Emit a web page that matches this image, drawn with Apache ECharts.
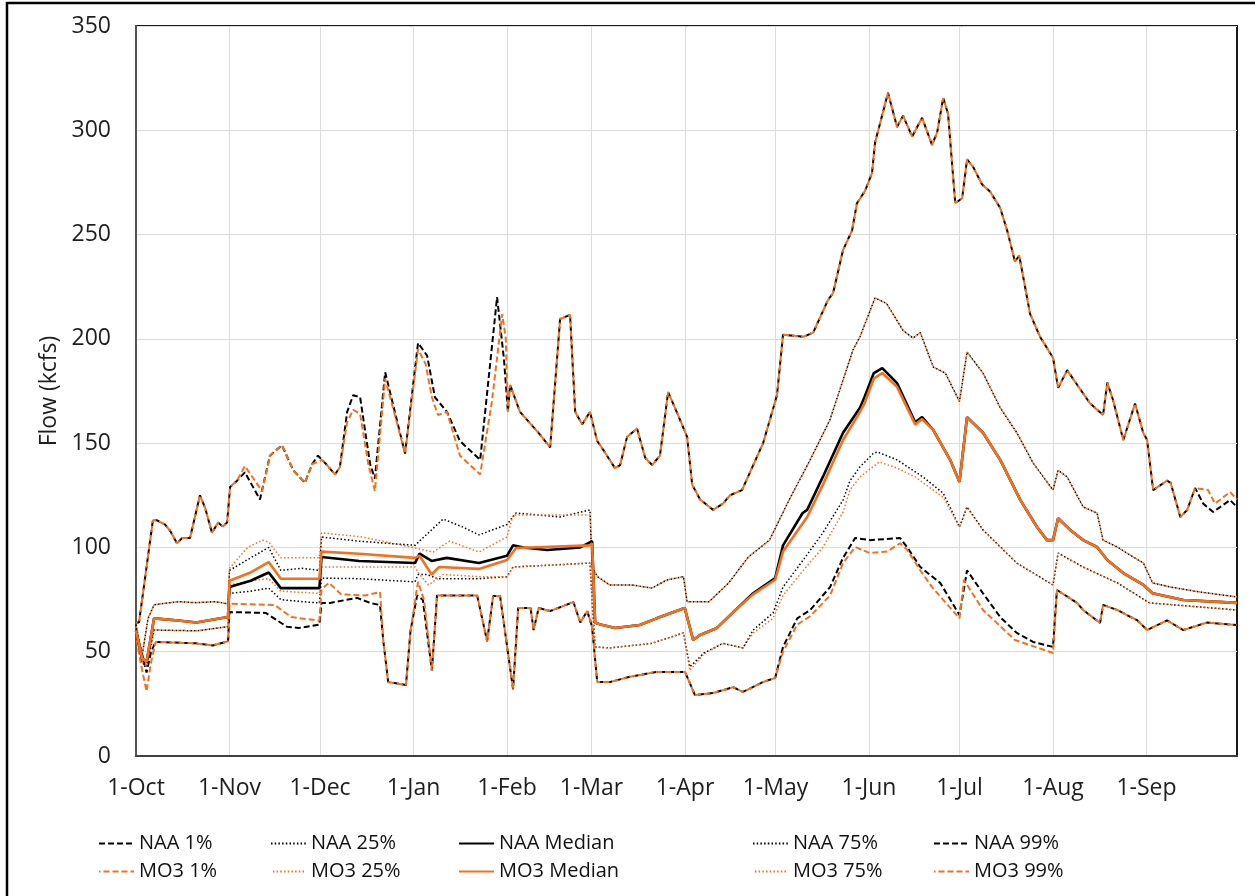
<!DOCTYPE html>
<html>
<head>
<meta charset="utf-8">
<script src="https://cdn.jsdelivr.net/npm/echarts@6/dist/echarts.min.js"></script>
<style>
html,body{margin:0;padding:0;background:#ffffff;}
#chart{width:1255px;height:896px;}
</style>
</head>
<body>
<div id="chart"></div>
<script>
// ---------- axis ticks ----------
const MONTH_DAYS = [0, 31, 61, 92, 123, 151, 182, 212, 243, 273, 304, 335];
const MONTH_LABELS = ['1-Oct', '1-Nov', '1-Dec', '1-Jan', '1-Feb', '1-Mar', '1-Apr', '1-May', '1-Jun', '1-Jul', '1-Aug', '1-Sep'];
const Y_MIN = 0, Y_MAX = 350, Y_STEP = 50;

// ---------- series values: [day of water year, flow kcfs] ----------
const P99_EARLY_NAA = [[0,64],[1,64],[5.6,113],[7,113],[9.6,111],[11.3,108],[13.6,102],[15.3,104.5],[17.9,104.5],[21.2,125],[22.9,119],[25.2,107],[27.2,112],[28.8,110],[30.2,112],[31.2,129],[33.5,132],[36.1,136],[41.1,123],[44.4,144],[48.4,149],[52.1,137],[56,131],[58.4,140],[60.3,144],[61.7,142],[63.3,139.5],[66,135],[67.6,138.6],[70,165],[72,173],[74.3,172],[77.6,140],[79.2,133],[82.6,184],[89.2,145],[93.5,198],[96.5,192],[99.1,172],[103.1,165],[107.4,151],[114.1,142],[119.7,220],[122,190],[123.3,165]];
const P99_EARLY_MO3 = [[0,64],[1,64],[5.6,113],[7,113],[9.6,111],[11.3,108],[13.6,102],[15.3,104.5],[17.9,104.5],[21.2,125],[22.9,119],[25.2,107],[27.2,112],[28.8,110],[30.2,112],[31.2,129],[33.5,132],[36.1,139],[41.8,127],[44.4,144],[48.4,149],[52.1,137],[56,131],[58.4,140],[60.3,141],[61.7,142],[63.3,139.5],[66,135],[67.6,138.6],[70,160],[72,166],[74.3,164],[77,140],[79.2,127],[82.6,181],[89.2,145],[93.5,195],[96,188],[98.1,172],[100.1,163.5],[103.1,165],[107.4,144],[114.1,135],[118,170],[121.4,212],[122.6,200],[123.3,165]];
const P99_SHARED = [[124,178],[127.3,165],[134,154],[137.3,148],[140.6,209.5],[143.9,211.5],[145.6,165],[147.9,159],[150.5,165],[152.9,151],[154.8,147],[158.8,138],[160.5,139.5],[162.8,153],[166.1,157],[168.8,143],[171.1,139.5],[173.7,144],[176.4,174.5],[179.4,164.5],[182.7,153],[184.4,130],[187,123],[191.3,118],[194.6,121],[196.9,125],[200.9,127.5],[207.9,150],[212.5,173],[214.5,202],[221.2,201],[224.5,203],[229.4,218.6],[231.1,222],[234.4,242.6],[237.4,252],[239,265],[241.7,271],[244,279.5],[245,294],[249.3,318],[252.3,301.6],[254.3,307],[257.3,297],[260.6,306],[263.9,293],[265.6,299],[267.6,315.5],[269.2,308],[271.6,265],[273.9,267.5],[275.5,286],[277.5,282.5],[280.5,274],[283.2,270.5],[286.5,262.7],[288.8,252],[291.4,237],[292.8,240],[296.4,212],[299.7,201],[304,191],[305.7,176.5],[308.7,185],[312,178],[316.3,169],[320.6,163.5],[322,179],[323.9,170.7],[327.3,151.5],[331.2,169],[333.9,155],[335.2,151.5],[337.2,127.5],[341.8,132],[343,131],[346.2,114.6],[348.5,118],[351.1,128.5]];
const P99_END_NAA = [[353.8,121],[357.1,117],[362.7,122.7],[365,119.4]];
const P99_END_MO3 = [[355.4,127.5],[357.7,121],[362.7,126.6],[365,123]];

const P75_EARLY_NAA = [[0,63],[2,48],[4,66],[6,72.5],[14,74],[20,73.5],[26,74],[30.5,73],[31,89],[38,95],[44,100],[48,89],[55,90],[60.8,89],[61.5,105],[74,103],[92.5,101],[101.8,113.6],[108,110],[113.7,106],[123,111],[126,116.5],[140.6,114.6],[150.5,118],[151.2,90.6],[153,86],[157,82]];
const P75_EARLY_MO3 = [[0,63],[2,48],[4,66],[6,72.5],[14,74],[20,73.5],[26,74],[30.5,73],[31,90],[37,100],[42,103.5],[44,102.6],[48,95],[55,95],[60.8,95],[61.5,107],[75,105],[92.5,99.7],[98.5,97.8],[104,103],[113.7,97.8],[123,105],[125,115.5],[150.5,115.5],[151.2,90],[153,86],[157,82]];
const P75_SHARED = [[164.5,82],[171,80.5],[176,84.4],[181.5,86],[182.7,74],[190,74],[196.5,83],[203,95.4],[210,103.5],[216.5,122.7],[223.5,142],[230,161],[237.7,194.7],[240,201],[245,219.6],[248.8,217],[254.3,204],[257.6,200.4],[260,203],[264.3,186.5],[268.3,183.6],[273,170],[275.5,193.7],[280.8,183.6],[286.5,167],[292,155],[297.4,140.5],[304,127.5],[305.7,137],[308.7,133.8],[314,119.4],[318.6,116.5],[320.6,103.5],[325.3,100.2],[330.6,95.4],[334,92.5],[337,83],[343,81],[352.8,78.6],[365,76.2]];

const MED_NAA = [[0,60],[2,47],[3.5,45],[6,66],[14,65],[20,64],[30.5,66.6],[31,81],[38,84],[44,88],[48,80.5],[60.8,80.5],[61.5,95.4],[74,93.5],[92.5,92.5],[94,97],[98,93.5],[103,95],[113.7,92.5],[123,96],[125,101],[128.4,100],[136.3,98.8],[147.3,100],[151.2,103],[152.2,64],[154,63],[158.8,61.4],[167,62.8],[172.6,66],[181.9,71],[184.7,55.6],[187,58],[192.6,61.4],[198,69],[204.6,78],[211.9,85.3],[214.5,101],[221,116.5],[222.5,118],[227.7,133.8],[234.4,155],[240,167],[241.5,172],[244.6,183.6],[247.4,186],[252.3,178.8],[258.3,160],[260.6,162.5]];
const MED_MO3 = [[0,60],[2,47],[3.5,45],[6,66],[14,65],[20,64],[30.5,66.6],[31,84],[38,88],[44,93],[48,85],[60.8,85],[61.5,98],[74,97],[92.5,95],[94,96],[98,87],[100.5,90.6],[113.7,89.7],[123,94],[126,99.7],[150.5,101],[151.2,102],[152.2,64],[154,63],[158.8,61.4],[167,62.8],[172.6,66],[181.9,71],[184.7,55.6],[187,58],[192.6,61.4],[198,69],[204.6,77.5],[211.9,84.5],[214.5,98],[222.5,114.6],[227.7,130],[234.4,151.5],[240,165],[241.5,169],[244.6,181],[247.4,183.6],[252.3,177],[258.3,159],[260.6,161.5]];
const MED_SHARED = [[264.3,156.3],[269.9,142],[273,131.4],[275.5,162.5],[280.8,155],[286.5,142],[293.2,122.7],[298.7,109.8],[302,103.5],[304,103.5],[305.7,114],[309.7,108.4],[314,103.5],[318.6,100.2],[322,94],[327.3,87.7],[334,82],[337,78],[347.2,74.8],[365,73.4]];

const P25_NAA = [[0,58],[2,45],[3.5,43],[6,60.4],[20,60],[30.5,62],[31,78],[38,79],[44,80.5],[48,75],[55,74],[60.8,73.4],[61.5,85.3],[74,85],[92.5,83.5],[93.5,87],[96.5,87],[100,85],[113.7,85],[123,86],[125,90.6],[150.5,92.5],[151.2,75],[152.2,52.3],[157,51.8],[171,54],[181.5,59],[183.6,42.7],[188.3,49.4],[194.6,54],[201.2,51.8],[204.6,60.4],[211.2,68.6],[214.5,81],[221.2,94],[227.7,107],[234.4,122.7],[236.7,132],[240,138.6],[244.4,145],[245.7,145.8],[252.3,142],[260.9,133.8],[267.6,126],[273,109.8]];
const P25_MO3 = [[0,58],[2,45],[3.5,43],[6,60.4],[20,60],[30.5,62],[31,82],[38,84],[44,85],[48,79],[60.8,78],[61.5,90.6],[74,90.6],[92.5,90.6],[94,87],[97,82],[101.8,87],[113.7,86],[123,86],[125,90.6],[150.5,92.5],[151.2,75],[152.2,52.3],[157,51.8],[171,54],[181.5,59],[183.6,41],[188.3,49],[194.6,54],[201.2,51.8],[204.6,59],[211.2,66],[214.5,77],[221.2,89],[227.7,100],[234.4,117],[236.7,127.5],[240,133.8],[246.4,141],[252.3,138],[258.3,133.8],[267.6,124],[273,109.8]];
const P25_SHARED = [[275.5,119.4],[280.8,108.4],[292,92.5],[304,82],[305.7,97.3],[314,90.6],[325.3,83],[336,73.4],[365,70]];

const P1_EARLY_NAA = [[0,58],[1.5,52],[3.5,40],[5,50],[6.5,54.7],[20,54],[25.5,53],[30.5,55],[31,69],[43,68.6],[50,62],[54,61.4],[60.8,63],[61.5,73.4],[64.3,73.4],[73.3,75.8],[77.6,73.4],[80.9,72.4],[82,55],[83.6,35.5],[89.5,34],[91,60],[93.2,77],[95.1,74.8]];
const P1_EARLY_MO3 = [[0,58],[1.5,45],[3.5,31],[5,45],[6.5,54.7],[20,54],[25.5,53],[30.5,55],[31,73],[46,72.4],[51.5,66.6],[60,65],[60.8,65],[61.5,80],[64,83],[68,77.5],[76,77],[80.9,78.6],[82,55],[83.6,35.5],[89.5,34],[91,60],[93.5,83.5],[95.5,74.8]];
const P1_MID = [[98.1,41],[99.8,77],[113.1,77],[116.4,55],[118.4,76.7],[120.7,76.7],[125,32],[126.7,71],[130.8,71],[131.8,60.4],[133.5,71],[137.3,69.5],[145,73.8],[147.3,64],[149.6,69.5],[151.2,62],[152.9,35.5],[157.2,35.5],[163.8,38],[172.6,40.3],[182,40.3],[185.3,29.2],[191.3,30.2],[198,33],[201.2,30.7],[207.9,35.5],[211.9,37.4]];
const P1_SUMMER_NAA = [[214.5,52.3],[219.2,66],[223.5,70],[230.1,81],[234.4,95],[238.4,104.5],[243.3,103.5],[253.3,104.5],[255.6,100.2],[260,90.6],[266.6,83],[273,67.6],[275.5,89],[280.8,78],[286.5,66.6],[292,59],[297.4,54.7],[304,52.3]];
const P1_SUMMER_MO3 = [[214.5,50],[219.2,63],[223.5,67],[230.1,77],[234.4,92.5],[238.4,100.2],[243.3,97.3],[249,98],[253.3,102],[255.6,99],[260,89],[263.9,81],[273,66],[274.5,84.4],[280.8,70],[291.4,55.6],[304,49.4]];
const P1_LATE = [[305.3,79.6],[312,73.4],[314,70],[319.6,63.8],[320.6,72.4],[325.3,70],[332,65],[335.2,60.4],[341.8,65],[347.2,60.4],[355.1,64],[365,62.8]];

const NAA_P1 = P1_EARLY_NAA.concat(P1_MID, P1_SUMMER_NAA, P1_LATE);
const MO3_P1 = P1_EARLY_MO3.concat(P1_MID, P1_SUMMER_MO3, P1_LATE);
const NAA_P25 = P25_NAA.concat(P25_SHARED);
const MO3_P25 = P25_MO3.concat(P25_SHARED);
const NAA_MEDIAN = MED_NAA.concat(MED_SHARED);
const MO3_MEDIAN = MED_MO3.concat(MED_SHARED);
const NAA_P75 = P75_EARLY_NAA.concat(P75_SHARED);
const MO3_P75 = P75_EARLY_MO3.concat(P75_SHARED);
const NAA_P99 = P99_EARLY_NAA.concat(P99_SHARED, P99_END_NAA);
const MO3_P99 = P99_EARLY_MO3.concat(P99_SHARED, P99_END_MO3);

const SERIES_NAMES = [['NAA 1%', 'MO3 1%'], ['NAA 25%', 'MO3 25%'], ['NAA Median', 'MO3 Median'], ['NAA 75%', 'MO3 75%'], ['NAA 99%', 'MO3 99%']];

// ---------- styling ----------
const FONT = '"Open Sans", "Liberation Sans", sans-serif';
const BLACK = '#000000';
const ORANGE = '#F4701E';
const STYLE = {
  outer:  { width: 2,   type: [6, 3] },
  quart:  { width: 1.5, type: [1.5, 2.2] },
  median: { width: 2.6, type: 'solid' }
};

function mk(name, data, color, kind, offset) {
  return {
    name: name,
    type: 'line',
    data: data,
    showSymbol: false,
    symbol: 'circle',
    silent: true,
    animation: false,
    lineStyle: { color: color, width: STYLE[kind].width, type: STYLE[kind].type, dashOffset: offset || 0 },
    itemStyle: { color: color },
    emphasis: { disabled: true }
  };
}

const series = [
  mk('NAA 1%', NAA_P1, BLACK, 'outer', 0),
  mk('NAA 25%', NAA_P25, BLACK, 'quart', 0),
  mk('NAA 75%', NAA_P75, BLACK, 'quart', 0),
  mk('NAA 99%', NAA_P99, BLACK, 'outer', 0),
  mk('MO3 1%', MO3_P1, ORANGE, 'outer', 4.5),
  mk('MO3 25%', MO3_P25, ORANGE, 'quart', 1.8),
  mk('MO3 75%', MO3_P75, ORANGE, 'quart', 1.8),
  mk('MO3 99%', MO3_P99, ORANGE, 'outer', 4.5),
  mk('NAA Median', NAA_MEDIAN, BLACK, 'median', 0),
  mk('MO3 Median', MO3_MEDIAN, ORANGE, 'median', 0)
];

const LEGEND_LEFT = [98, 270, 458, 752, 933];
const legends = SERIES_NAMES.map(function (pair, i) {
  return {
    orient: 'vertical',
    left: LEGEND_LEFT[i],
    top: 833,
    padding: 0,
    itemGap: 7,
    itemWidth: 35,
    itemHeight: 14,
    selectedMode: false,
    data: pair,
    itemStyle: { opacity: 0 },
    lineStyle: { width: 2 },
    textStyle: { fontFamily: FONT, fontSize: 20, color: '#111111', lineHeight: 21 }
  };
});

const chart = echarts.init(document.getElementById('chart'), null, { renderer: 'canvas' });
chart.setOption({
  backgroundColor: '#ffffff',
  animation: false,
  grid: { left: 136, top: 26, right: 18, bottom: 140, show: true, borderColor: '#1a1a1a', borderWidth: 2, backgroundColor: 'transparent' },
  xAxis: {
    type: 'value',
    min: 0,
    max: 365,
    axisLine: { show: true, onZero: false, lineStyle: { color: '#404040', width: 2 } },
    axisTick: { show: false, customValues: MONTH_DAYS },
    splitLine: { show: true, lineStyle: { color: '#dcdcdc', width: 1 } },
    axisLabel: {
      customValues: MONTH_DAYS,
      formatter: function (v) { const i = MONTH_DAYS.indexOf(Math.round(v)); return i >= 0 ? MONTH_LABELS[i] : ''; },
      fontFamily: FONT, fontSize: 23, color: '#1e1e1e', margin: 21
    }
  },
  yAxis: {
    type: 'value',
    min: Y_MIN,
    max: Y_MAX,
    interval: Y_STEP,
    name: 'Flow (kcfs)',
    nameLocation: 'middle',
    nameGap: 75,
    nameTextStyle: { fontFamily: FONT, fontSize: 23, color: '#1e1e1e' },
    axisLine: { show: true, lineStyle: { color: '#555555', width: 2 } },
    axisTick: { show: false },
    splitLine: { show: true, lineStyle: { color: '#dcdcdc', width: 1 } },
    axisLabel: { fontFamily: FONT, fontSize: 23, color: '#1e1e1e', margin: 25 }
  },
  legend: legends,
  graphic: [{
    type: 'rect',
    silent: true,
    shape: { x: 7, y: 3, width: 1400, height: 1000 },
    style: { fill: 'none', stroke: '#000000', lineWidth: 2.5 }
  }],
  series: series
});
</script>
</body>
</html>
